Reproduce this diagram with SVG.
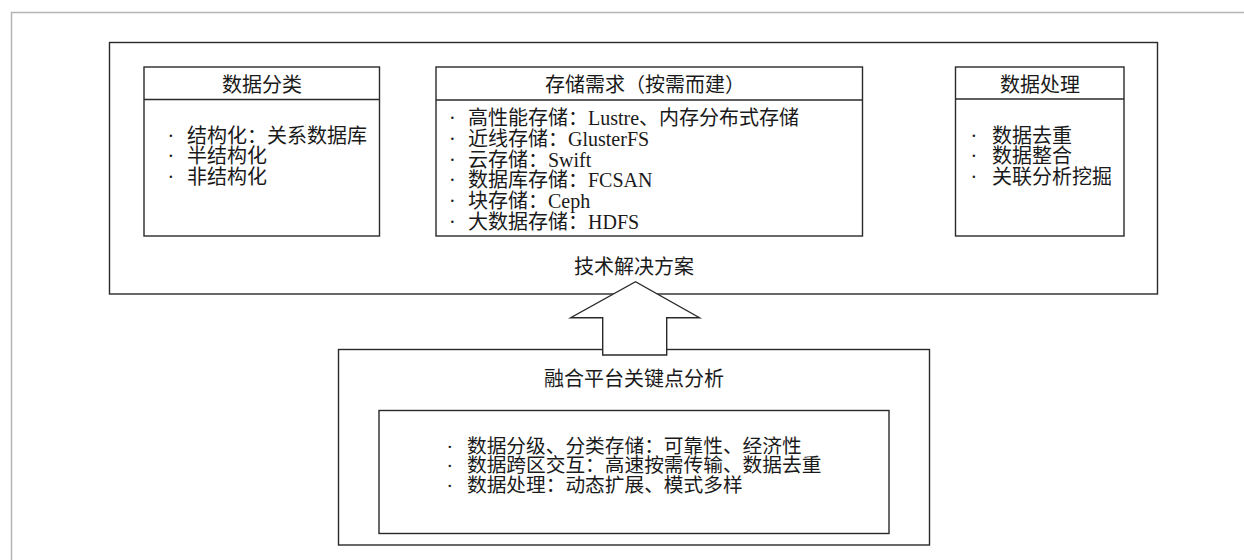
<svg xmlns="http://www.w3.org/2000/svg" width="1244" height="560" viewBox="0 0 1244 560">
<style>
.bx{fill:#fff;stroke:#2a2a2a;stroke-width:1.4}
.ln{fill:none;stroke:#2a2a2a;stroke-width:1.4}
.t{font-family:"Liberation Serif","Noto Sans CJK SC",serif;font-size:20px;fill:#1a1a1a}
.s{font-family:"Liberation Serif","Noto Sans CJK SC",serif;font-size:19.7px;fill:#1a1a1a}
.c{text-anchor:middle}
</style>
<rect x="0" y="0" width="1244" height="560" fill="#fff"/>
<path d="M11.5,560 V12.5 H1244" fill="none" stroke="#b4b4b4" stroke-width="1.5"/>
<g id="solution">
<rect class="bx" x="109.5" y="42.5" width="1048" height="251.5"/>
<text class="t c" x="634" y="274.3">技术解决方案</text>
</g>
<g id="classification">
<rect class="bx" x="144" y="67" width="235.5" height="169"/>
<line class="ln" x1="144" y1="99.5" x2="379.5" y2="99.5"/>
<text class="t c" x="262" y="91.8">数据分类</text>
<text class="t" y="142.6"><tspan x="167.5">·</tspan><tspan x="187">结构化：关系数据库</tspan></text>
<text class="t" y="163.3"><tspan x="167.5">·</tspan><tspan x="187">半结构化</tspan></text>
<text class="t" y="184"><tspan x="167.5">·</tspan><tspan x="187">非结构化</tspan></text>
</g>
<g id="storage">
<rect class="bx" x="436" y="67" width="426.5" height="169"/>
<line class="ln" x1="436" y1="100" x2="862.5" y2="100"/>
<text class="t c" x="645" y="91.8">存储需求（按需而建）</text>
<text class="t" y="125"><tspan x="449">·</tspan><tspan x="468">高性能存储：Lustre、内存分布式存储</tspan></text>
<text class="t" y="145.8"><tspan x="449">·</tspan><tspan x="468">近线存储：GlusterFS</tspan></text>
<text class="t" y="166.6"><tspan x="449">·</tspan><tspan x="468">云存储：Swift</tspan></text>
<text class="t" y="187.4"><tspan x="449">·</tspan><tspan x="468">数据库存储：FCSAN</tspan></text>
<text class="t" y="208.2"><tspan x="449">·</tspan><tspan x="468">块存储：Ceph</tspan></text>
<text class="t" y="229"><tspan x="449">·</tspan><tspan x="468">大数据存储：HDFS</tspan></text>
</g>
<g id="processing">
<rect class="bx" x="955.5" y="67" width="168.5" height="169"/>
<line class="ln" x1="955.5" y1="99" x2="1124" y2="99"/>
<text class="t c" x="1040" y="91.8">数据处理</text>
<text class="t" y="142.6"><tspan x="970.5">·</tspan><tspan x="992">数据去重</tspan></text>
<text class="t" y="163.3"><tspan x="970.5">·</tspan><tspan x="992">数据整合</tspan></text>
<text class="t" y="184"><tspan x="970.5">·</tspan><tspan x="992">关联分析挖掘</tspan></text>
</g>
<g id="analysis">
<rect class="bx" x="338.5" y="349.5" width="591" height="195.5"/>
<text class="t c" x="634" y="386">融合平台关键点分析</text>
<rect class="bx" x="379" y="410.5" width="510" height="123"/>
<text class="s" y="452.5"><tspan x="446.5">·</tspan><tspan x="467">数据分级、分类存储：可靠性、经济性</tspan></text>
<text class="s" y="472.2"><tspan x="446.5">·</tspan><tspan x="467">数据跨区交互：高速按需传输、数据去重</tspan></text>
<text class="s" y="491.9"><tspan x="446.5">·</tspan><tspan x="467">数据处理：动态扩展、模式多样</tspan></text>
</g>
<g id="connectors">
<path class="bx" d="M602.7,355 V317.7 H570.7 L635.5,281.7 L699.5,317.7 H666.7 V355 Z"/>
</g>
</svg>
